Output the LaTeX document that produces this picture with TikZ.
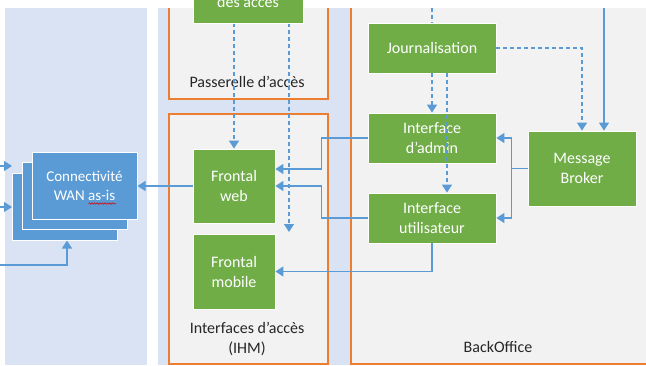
\documentclass[tikz,border=0pt]{standalone}
\usepackage{fontspec}
\setmainfont{Carlito}
\usetikzlibrary{arrows.meta,decorations.pathmorphing}

\definecolor{bgblue}{HTML}{DAE3F3}
\definecolor{panelgray}{HTML}{F2F2F2}
\definecolor{frameorange}{HTML}{ED7D31}
\definecolor{boxgreen}{HTML}{70AD47}
\definecolor{linkblue}{HTML}{5B9BD5}
\definecolor{labelgray}{HTML}{262626}

\begin{document}
\begin{tikzpicture}[x=1pt,y=-1pt,
  gbox/.style={fill=boxgreen, draw=white, line width=0.8pt, text=white,
    align=center, inner sep=0pt, font=\fontsize{16}{20}\selectfont},
  wanbox/.style={fill=linkblue, draw=white, line width=1pt, inner sep=0pt,
    minimum width=105pt, minimum height=67pt, text=white, align=center,
    font=\fontsize{15}{19}\selectfont},
  panel/.style={fill=panelgray, draw=frameorange, line width=1.6pt,
    inner sep=0pt, anchor=north west},
  link/.style={draw=linkblue, line width=1.3pt},
  tip/.style={-{Triangle[width=10pt,length=8pt]}},
  arr/.style={link, tip},
  dlink/.style={link, dash pattern=on 4pt off 3pt},
  darr/.style={dlink, tip},
  lbl/.style={font=\fontsize{16}{20}\selectfont, text=labelgray, align=center}
]
\useasboundingbox (0,0) rectangle (646,365);
\clip (0,0) rectangle (646,365);

% background bands
\fill[white] (0,0) rectangle (646,365);
\fill[bgblue] (5,8) rectangle (147,365);
\fill[bgblue] (158,8) rectangle (360,365);

% framed zones
\node[panel, minimum width=159pt, minimum height=108pt] (gw) at (168,-10) {};
\node[panel, minimum width=159pt, minimum height=250pt] (ihm) at (168,113) {};
\node[panel, minimum width=310pt, minimum height=373pt] (bo) at (350,-10) {};

\node[lbl] (gwlbl) at (247,82) {Passerelle d’accès};
\node[lbl] (ihmlbl) at (247,338.5) {Interfaces d’accès\\(IHM)};
\node[lbl] (bolbl) at (498,347) {BackOffice};

% stacked WAN boxes
\node[wanbox] (wan3) at (65,206.5) {};
\node[wanbox] (wan2) at (74.5,196) {};
\node[wanbox] (wan1) at (84.5,185.5) {Connectivité\\WAN as-is};
\draw[red!85!black, line width=0.5pt, decorate,
  decoration={snake, amplitude=0.8pt, segment length=2.6pt}] (88.5,203.5) -- (116,203.5);

% green blocks
\node[gbox, minimum width=82pt, minimum height=74pt] (fweb) at (234,186) {Frontal\\web};
\node[gbox, minimum width=82pt, minimum height=75pt] (fmob) at (234,271.5) {Frontal\\mobile};
\node[gbox, minimum width=128pt, minimum height=50pt] (jour) at (432,48) {Journalisation};
\node[gbox, minimum width=128pt, minimum height=50pt] (adm) at (432,138) {Interface\\d’admin};
\node[gbox, minimum width=128pt, minimum height=50pt] (usr) at (432,218) {Interface\\utilisateur};
\node[gbox, minimum width=108pt, minimum height=75pt] (mb) at (582,168.5) {Message\\Broker};

% loose ends
\coordinate (in1) at (0,166);
\coordinate (in2) at (0,207);
\coordinate (in3) at (0,265);
\coordinate (gwend) at (289,232);
\coordinate (jtop) at (432,8);
\coordinate (mbtop) at (604,8);

% connectors to the WAN boxes
\draw[arr] (in1) -- (in1 -| wan3.west);
\draw[arr] (in2) -- (in2 -| wan3.west);
\draw[arr] (in3) -| ([xshift=2pt]wan3.south);
\draw[arr] (fweb.west) -- (fweb.west -| wan1.east);

% access gateway flows
\draw[darr] (fweb.north |- 0,23) -- (fweb.north);
\draw[darr] (gwend |- 0,23) -- (gwend);

% back office to front ends
\draw[arr] (adm.west) -- ++(-46,0) |- ([yshift=17pt]fweb.east);
\draw[arr] (usr.west) -- ++(-46,0) |- (fweb.east);
\draw[arr] (usr.south) |- (fmob.east);

% logging and broker flows
\draw[dlink] (jtop) -- (jour.north);
\draw[darr] (jour.south) -- (adm.north);
\draw[darr] ([xshift=15pt]jour.south) -- ([xshift=15pt]usr.north);
\draw[darr] (jour.east) -| (mb.north);
\draw[arr] (mbtop) -- (mbtop |- mb.north);
\draw[arr] (mb.west) -- ++(-16,0) |- (adm.east);
\draw[arr] (mb.west) -- ++(-16,0) |- (usr.east);

% top strip and the access-management block above it
\fill[white] (0,0) rectangle (646,8);
\node[gbox, minimum width=110pt, minimum height=63pt] (acc) at (248,-8.5) {};
\node[text=white, font=\fontsize{16}{20}\selectfont, anchor=base, inner sep=0pt]
  (acctxt) at (248,7) {des accès};
\end{tikzpicture}
\end{document}
